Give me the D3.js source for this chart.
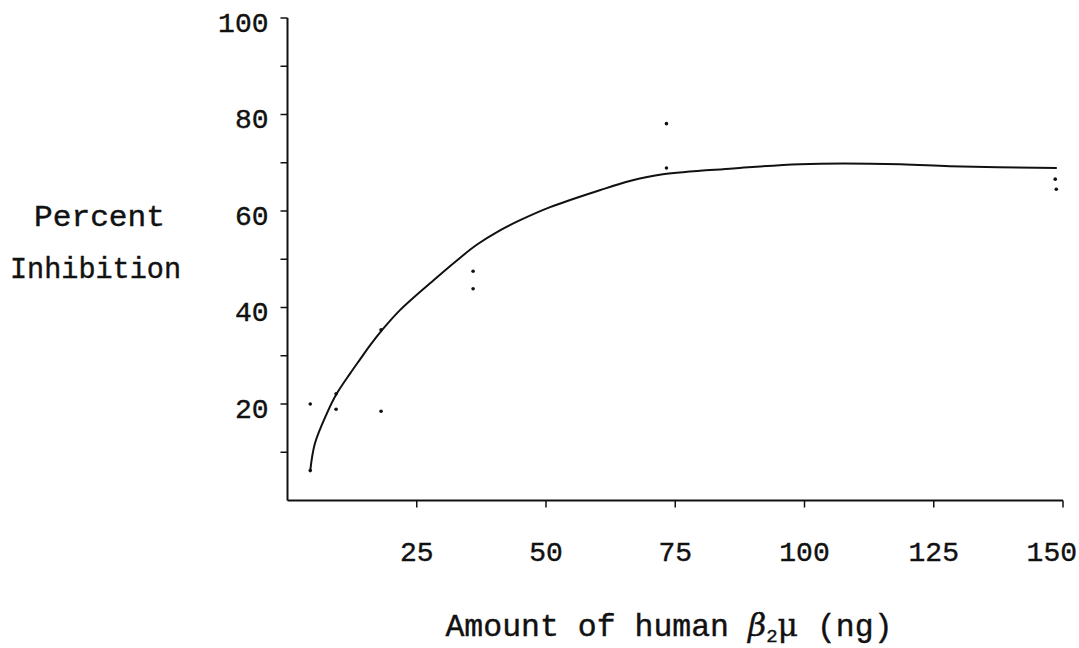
<!DOCTYPE html>
<html><head><meta charset="utf-8">
<script src="https://cdn.jsdelivr.net/npm/d3@7"></script>
<style>body{margin:0;background:#fff}svg{display:block}</style>
</head><body>
<svg id="c" width="1079" height="648"></svg>
<script>
// Observed points (amount in ng, percent inhibition)
const doseX  = [4.4, 4.4, 9.4, 9.4, 18.1, 18.1, 35.9, 35.9, 73.3, 73.3, 148.5, 148.7];
const inhibY = [20.0, 6.2, 22.1, 18.9, 18.5, 35.4, 47.5, 43.9, 78.1, 68.9, 66.6, 64.5];
// Hand-fitted curve
const fitX = [4.4, 5.3, 7.6, 9.5, 12.1, 14.0, 16.0, 18.2, 21.8, 28.2, 32.7, 36.6, 41.1, 45.0, 50.8, 60.4, 66.2, 72.6, 86.2, 99.1, 118.5, 128.1, 148.8];
const fitY = [6.2, 11.8, 18.0, 22.1, 26.3, 29.2, 32.2, 35.2, 39.5, 45.6, 49.7, 53.0, 56.0, 58.1, 60.8, 64.3, 66.2, 67.6, 68.8, 69.7, 69.7, 69.3, 68.9];
const xTicks = [25, 50, 75, 100, 125, 150];
const yTicks = [10, 20, 30, 40, 50, 60, 70, 80, 90, 100];
const yLabels = [20, 40, 60, 80, 100];
const yTitle = ["Percent", "Inhibition"];

const svg = d3.select("#c");
const font = "'Liberation Mono', 'Courier New', monospace";
const x = d3.scaleLinear().domain([0, 150]).range([287.5, 1063]);
const y = d3.scaleLinear().domain([0, 100]).range([500.5, 18]);

const g = svg.append("g").attr("stroke", "#111").attr("fill", "none");
// axes lines
g.append("line").attr("x1", x(0)).attr("x2", x(0)).attr("y1", y(100)).attr("y2", y(0)).attr("stroke-width", 2);
g.append("line").attr("x1", x(0)).attr("x2", x(150)).attr("y1", y(0)).attr("y2", y(0)).attr("stroke-width", 2);
// y ticks
g.selectAll(".yt").data(yTicks).join("line")
  .attr("x1", x(0) - 7).attr("x2", x(0)).attr("y1", d => y(d)).attr("y2", d => y(d)).attr("stroke-width", 1.5);
// x ticks
g.selectAll(".xt").data(xTicks).join("line")
  .attr("x1", d => x(d)).attr("x2", d => x(d)).attr("y1", y(0)).attr("y2", y(0) + 7).attr("stroke-width", 1.5);

const txt = svg.append("g").attr("fill", "#111").attr("font-family", font)
  .attr("stroke", "#111").attr("stroke-width", 0.4);
txt.selectAll(".yl").data(yLabels).join("text")
  .attr("x", x(0) - 19).attr("y", d => y(d) + 4).attr("dy", "0.35em")
  .attr("text-anchor", "end").attr("font-size", 28).text(d => d);
txt.selectAll(".xl").data(xTicks).join("text")
  .attr("x", (d, i) => i === xTicks.length - 1 ? x(d) + 14 : x(d))
  .attr("y", 551).attr("dy", "0.35em")
  .attr("text-anchor", (d, i) => i === xTicks.length - 1 ? "end" : "middle")
  .attr("font-size", 28).text(d => d);

txt.selectAll(".yti").data(yTitle).join("text")
  .attr("x", (d, i) => i ? 10 : 34).attr("y", (d, i) => i ? 268 : 216).attr("dy", "0.35em")
  .attr("textLength", (d, i) => i ? 171 : 131).attr("lengthAdjust", "spacingAndGlyphs")
  .attr("font-size", 29).text(d => d);

const xt = txt.append("text").attr("x", 669).attr("y", 625).attr("dy", "0.35em")
  .attr("text-anchor", "middle").attr("font-size", 31.5);
xt.append("tspan").text("Amount of human ");
xt.append("tspan").attr("font-family", "'DejaVu Serif', serif").attr("font-style", "italic").text("β");
xt.append("tspan").attr("font-size", 19).attr("dy", 6).text("2");
xt.append("tspan").attr("dy", -6).attr("font-family", "'DejaVu Serif', serif").text("μ");
xt.append("tspan").text(" (ng)");

// fitted curve
const line = d3.line().x(d => x(d[0])).y(d => y(d[1])).curve(d3.curveCatmullRom);
svg.append("path").datum(fitX.map((v, i) => [v, fitY[i]]))
  .attr("d", line).attr("fill", "none").attr("stroke", "#111").attr("stroke-width", 2);

// points
svg.selectAll(".pt").data(doseX.map((v, i) => [v, inhibY[i]])).join("circle")
  .attr("cx", d => x(d[0])).attr("cy", d => y(d[1])).attr("r", 1.8).attr("fill", "#111");
</script>
</body></html>
